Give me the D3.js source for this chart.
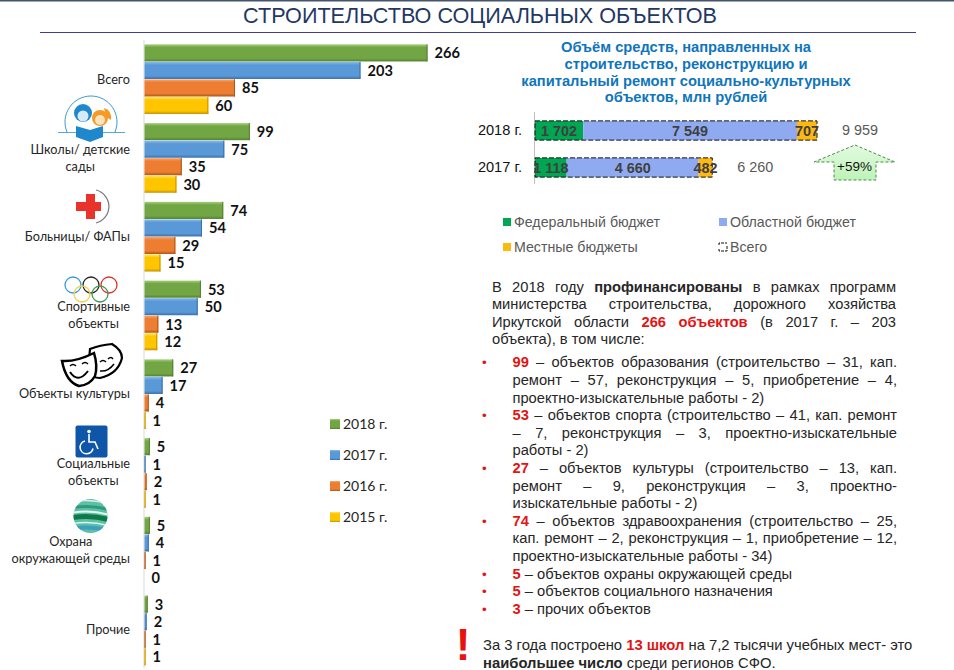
<!DOCTYPE html>
<html><head><meta charset="utf-8">
<script src="https://cdn.jsdelivr.net/npm/d3@7/dist/d3.min.js"></script>
<style>html,body{margin:0;padding:0;background:#fff;overflow:hidden}svg{display:block}</style>
</head><body><svg id="c" width="954" height="670"></svg>
<script>
const title = "СТРОИТЕЛЬСТВО СОЦИАЛЬНЫХ ОБЪЕКТОВ";
const categories = ["Всего","Школы","Больницы","Спорт","Культура","Социальные","Охрана","Прочие"];
const categoryLines = [["Всего"],["Школы/ детские","сады"],["Больницы/ ФАПы"],["Спортивные","объекты"],["Объекты культуры"],["Социальные","объекты"],["Охрана","окружающей среды"],["Прочие"]];
const years = ["2018 г.","2017 г.","2016 г.","2015 г."];
const y2018 = [266,99,74,53,27,5,5,3];
const y2017 = [203,75,54,50,17,1,4,2];
const y2016 = [85,35,29,13,4,2,1,1];
const y2015 = [60,30,15,12,1,1,0,1];
const fundYears = ["2018 г.","2017 г."];
const fundSeries = ["Федеральный бюджет","Областной бюджет","Местные бюджеты"];
const federal = [1702,1118];
const regional = [7549,4660];
const local = [707,482];
const totals = [9959,6260];
const fundTitle = ["Объём средств, направленных на","строительство, реконструкцию и","капитальный ремонт социально-культурных","объектов, млн рублей"];
const intro = [
 [[["В 2018 году ",""],["профинансированы","b"],[" в рамках программ",""]],1],
 [[["министерства строительства, дорожного хозяйства",""]],1],
 [[["Иркутской области ",""],["266 объектов","r"],[" (в 2017 г. – 203",""]],1],
 [[["объекта), в том числе:",""]],0]];
const bullets = [
 [[["99","r"],[" – объектов образования (строительство – 31, кап.",""]],1,1],
 [[["ремонт – 57, реконструкция – 5, приобретение – 4,",""]],1,0],
 [[["проектно-изыскательные работы - 2)",""]],0,0],
 [[["53","r"],[" – объектов спорта (строительство – 41, кап. ремонт",""]],1,1],
 [[["– 7, реконструкция – 3, проектно-изыскательные",""]],1,0],
 [[["работы - 2)",""]],0,0],
 [[["27","r"],[" – объектов культуры (строительство – 13, кап.",""]],1,1],
 [[["ремонт – 9, реконструкция – 3, проектно-",""]],1,0],
 [[["изыскательные работы - 2)",""]],0,0],
 [[["74","r"],[" – объектов здравоохранения (строительство – 25,",""]],1,1],
 [[["кап. ремонт – 2, реконструкция – 1, приобретение – 12,",""]],1,0],
 [[["проектно-изыскательные работы - 34)",""]],0,0],
 [[["5","r"],[" – объектов охраны окружающей среды",""]],0,1],
 [[["5","r"],[" – объектов социального назначения",""]],0,1],
 [[["3","r"],[" – прочих объектов",""]],0,1]];
const bulletY = [367,385,403,420,438,455,473,491,508,526,543,561,579,596,614];
const note = [
 [["За 3 года построено ",""],["13 школ","r"],[" на 7,2 тысячи учебных мест- это",""]],
 [["наибольшее число","b"],[" среди регионов СФО.",""]]];
const growth = "+59%";

const svg = d3.select("#c");
const defs = svg.append("defs");
const sans = "'Liberation Sans',Arial,sans-serif", cal = "Lato,'Noto Sans',sans-serif";

// bar gradients
const barCols = [["#a5d07a","#72a644","#547f30"],["#8cbdec","#5a99d8","#3a6ea8"],["#f8a873","#ed7d31","#ab5618"],["#ffe566","#ffc600","#c49200"]];
barCols.forEach((c,i)=>{const g=defs.append("linearGradient").attr("id","g"+i).attr("x1",0).attr("x2",0).attr("y1",0).attr("y2",1);
 [[0,c[0]],[.18,c[1]],[.82,c[1]],[1,c[2]]].forEach(s=>g.append("stop").attr("offset",s[0]).attr("stop-color",s[1]));});
const ag=defs.append("linearGradient").attr("id","arr").attr("x1",0).attr("x2",0).attr("y1",0).attr("y2",1);
ag.append("stop").attr("offset",0).attr("stop-color","#e4fbe0");ag.append("stop").attr("offset",1).attr("stop-color","#bdf3b8");

// header
svg.append("rect").attr("width",954).attr("height",1.5).attr("fill","#44546a");
svg.append("text").text(title).attr("x",480).attr("y",23).attr("text-anchor","middle").attr("font-family",sans).attr("font-size",21.6).attr("fill","#1f3864");
svg.append("line").attr("x1",40).attr("x2",916).attr("y1",32.5).attr("y2",32.5).attr("stroke","#3b3f98").attr("stroke-width",1.2);

// left chart
const x = d3.scaleLinear().domain([0,266]).range([144.5,427.5]);
const y0 = d3.scaleBand().domain(categories).range([40,670]).paddingInner(0.11).paddingOuter(0.055);
const y1 = d3.scaleBand().domain(years).range([0,y0.bandwidth()]);
const allSeries=[y2018,y2017,y2016,y2015];
const gL = svg.append("g");
gL.append("line").attr("x1",144).attr("x2",144).attr("y1",40).attr("y2",668).attr("stroke","#d9d9d9");
categories.forEach((cat,ci)=>{
 years.forEach((yr,si)=>{
  const v=allSeries[si][ci], yy=y0(cat)+y1(yr);
  gL.append("rect").attr("x",x(0)).attr("y",yy).attr("width",x(v)-x(0)).attr("height",y1.bandwidth()-.4).attr("fill",`url(#g${si})`);
  if(v>0)gL.append("rect").attr("x",x(v)-1).attr("y",yy).attr("width",1).attr("height",y1.bandwidth()-.4).attr("fill",barCols[si][2]);
  gL.append("text").text(v).attr("x",x(v)+7).attr("y",yy+y1.bandwidth()/2+5.3).attr("font-family",cal).attr("font-weight",700).attr("font-size",14.6).attr("fill","#111");
 });
});
const catY=[84,154,241,311,398,468,546,634];
categoryLines.forEach((lines,i)=>{
 const g=svg.append("g").attr("font-family",cal).attr("font-size",12.7).attr("fill","#262626");
 const ts=lines.map((l,k)=>g.append("text").text(l).attr("y",catY[i]+k*17));
 const w=d3.max(ts,t=>t.node().getComputedTextLength());
 ts.forEach(t=>t.attr("x",130-w/2).attr("text-anchor","middle"));
});
// legend left
years.forEach((yr,i)=>{
 const yy=424+i*31;
 svg.append("rect").attr("x",330).attr("y",yy-5).attr("width",10).attr("height",10).attr("fill",`url(#g${i})`);
 svg.append("text").text(yr).attr("x",343).attr("y",yy+5).attr("font-family",cal).attr("font-size",14).attr("fill","#262626");
});

// icons
const ic=svg.append("g");
// kids
ic.append("path").attr("d","M67 132 A26 26 0 1 1 115 132").attr("fill","none").attr("stroke","#3a9ad0").attr("stroke-width",1);
ic.append("line").attr("x1",58).attr("x2",125).attr("y1",132.5).attr("y2",132.5).attr("stroke","#5aa9d8");
ic.append("circle").attr("cx",83).attr("cy",113).attr("r",9).attr("fill","#1f88cc");
ic.append("circle").attr("cx",83).attr("cy",116).attr("r",5.5).attr("fill","#d5ebf8");
ic.append("circle").attr("cx",100).attr("cy",118).attr("r",8).attr("fill","#f59b25");
ic.append("circle").attr("cx",100).attr("cy",120).attr("r",5).attr("fill","#fde2bd");
ic.append("path").attr("d","M104 108 q8 2 7 12 l-5 -3z").attr("fill","#f59b25");
ic.append("path").attr("d","M76 126 L90 130 L103 126 L103 137 L90 142 L76 137Z").attr("fill","#1f88cc");
// cross
ic.append("path").attr("d","M96 190 A17 17 0 0 1 96 223").attr("fill","none").attr("stroke","#777").attr("stroke-width",1.2);
ic.append("path").attr("d","M86 194 h9 v8 h6 v9 h-6 v8 h-9 v-8 h-10 v-9 h10z").attr("fill","#e8322a");
// rings
[[73,285,"#3b9ad6"],[91,285,"#222"],[109,285,"#d8342c"],[82,294,"#f0cf4a"],[100,294,"#3f9a55"]].forEach(r=>
 ic.append("circle").attr("cx",r[0]).attr("cy",r[1]).attr("r",8).attr("fill","none").attr("stroke",r[2]).attr("stroke-width",1.3));
// masks
ic.append("path").attr("d","M90 349 Q100 345 112 344 Q122 350 122 358 Q118 374 100 378 Q92 378 88 372Z").attr("fill","#fff").attr("stroke","#000").attr("stroke-width",2.2);
ic.append("path").attr("d","M62 361 Q76 362 94 353 Q98 366 95 376 Q90 385 79 386 Q66 382 62 361Z").attr("fill","#fff").attr("stroke","#000").attr("stroke-width",2.5);
ic.append("path").attr("d","M70 372 Q78 384 88 371").attr("fill","none").attr("stroke","#000").attr("stroke-width",2);
ic.append("path").attr("d","M70 366 q3 -3 6 0 M82 364 q3 -3 6 0 M100 362 q3 -3 6 0 M108 359 q3 -3 5 0 M100 371 Q108 372 114 364").attr("fill","none").attr("stroke","#000").attr("stroke-width",1.5);
// wheelchair
ic.append("rect").attr("x",75.5).attr("y",425.5).attr("width",32).attr("height",32).attr("rx",2).attr("fill","#0f56a8");
ic.append("circle").attr("cx",89).attr("cy",431.5).attr("r",1.8).attr("fill","#fff");
ic.append("path").attr("d","M89 434 v8 h6 l3 7 M85 441 a6.5 6.5 0 1 0 8 7.5").attr("fill","none").attr("stroke","#fff").attr("stroke-width",1.6);
// globe
defs.append("clipPath").attr("id","gl").append("circle").attr("cx",90.5).attr("cy",516).attr("r",17);
const gl=ic.append("g").attr("clip-path","url(#gl)");
gl.append("rect").attr("x",73).attr("y",498).attr("width",36).attr("height",36).attr("fill","#5cc0a8");
[[502,"#d8f0e8",1.5],[508,"#2f9a78",3],[513,"#e6f5ef",2],[518,"#0f7a46",5],[524,"#dff2ec",1.5],[529,"#3d9fc0",4]].forEach(b=>
 gl.append("path").attr("d",`M70 ${b[0]} Q90 ${b[0]-4} 110 ${b[0]+2}`).attr("fill","none").attr("stroke",b[1]).attr("stroke-width",b[2]));

// funding title
fundTitle.forEach((t,i)=>svg.append("text").text(t).attr("x",686).attr("y",52+i*16.8).attr("text-anchor","middle")
 .attr("font-family",sans).attr("font-weight",700).attr("font-size",14.7).attr("fill","#0f75bc"));

// stacked chart
const fundX=d3.scaleLinear().domain([0,9959]).range([535,817]);
const fundY=d3.scaleBand().domain(fundYears).range([112,186]).paddingInner(0.48).paddingOuter(0.24);
const fmt=d3.formatLocale({decimal:",",thousands:" ",grouping:[3],currency:["",""]}).format(",");
const fundCols=["#00a651","#8faaf0","#fdb813"];
const fundData=[federal,regional,local];
const stack=d3.stack().keys([0,1,2]).value((d,k)=>fundData[k][d])(fundYears.map((_,i)=>i));
svg.append("line").attr("x1",534.5).attr("x2",534.5).attr("y1",112).attr("y2",184).attr("stroke","#bfbfbf");
stack.forEach((s,k)=>s.forEach((d,i)=>{
 const yy=fundY(fundYears[i]);
 svg.append("rect").attr("x",fundX(d[0])).attr("y",yy).attr("width",fundX(d[1])-fundX(d[0])).attr("height",fundY.bandwidth()).attr("fill",fundCols[k]);
}));
fundYears.forEach((yr,i)=>{
 svg.append("rect").attr("x",fundX(0)).attr("y",fundY(yr)).attr("width",fundX(totals[i])-fundX(0)).attr("height",fundY.bandwidth())
  .attr("fill","none").attr("stroke","#111").attr("stroke-width",1).attr("stroke-dasharray","5 2");
 svg.append("text").text(yr).attr("x",522).attr("y",fundY(yr)+fundY.bandwidth()/2+4.5).attr("text-anchor","end").attr("font-family",sans).attr("font-size",14.6).attr("fill","#111");
 svg.append("text").text(fmt(totals[i])).attr("x",fundX(totals[i])+43).attr("y",fundY(yr)+fundY.bandwidth()/2+4.5).attr("text-anchor","middle").attr("font-family",sans).attr("font-size",14.4).attr("fill","#595959");
});
stack.forEach((s,k)=>s.forEach((d,i)=>{
 svg.append("text").text(fmt(fundData[k][i])).attr("x",(fundX(d[0])+fundX(d[1]))/2).attr("y",fundY(fundYears[i])+fundY.bandwidth()/2+5)
  .attr("text-anchor","middle").attr("font-family",sans).attr("font-weight",700).attr("font-size",14.4).attr("fill","#404040");
}));
// growth arrow
svg.append("path").attr("d","M855 145 L895 162 L876 162 L876 180 L834 180 L834 162 L814 162Z").attr("fill","url(#arr)").attr("stroke","#4d8a4d").attr("stroke-dasharray","3 2");
svg.append("text").text(growth).attr("x",854.5).attr("y",171).attr("text-anchor","middle").attr("font-family",sans).attr("font-size",13.5).attr("fill","#111");
// fund legend
[[503,218,0],[719,218,1],[503,243,2]].forEach(p=>{
 svg.append("rect").attr("x",p[0]).attr("y",p[1]).attr("width",8).attr("height",8).attr("fill",fundCols[p[2]]);
 svg.append("text").text(fundSeries[p[2]]).attr("x",p[0]+11).attr("y",p[1]+9).attr("font-family",sans).attr("font-size",14.2).attr("fill","#595959");
});
svg.append("path").attr("d","M719 245 v-2 h8 M727 246 v5 h-8 v-3").attr("fill","none").attr("stroke","#111").attr("stroke-dasharray","3 1");
svg.append("text").text("Всего").attr("x",730).attr("y",252).attr("font-family",sans).attr("font-size",14.2).attr("fill","#595959");

// rich text with justification
function line(parts,xx,yy,w,just,fs){
 const t=svg.append("text").attr("x",xx).attr("y",yy).attr("font-family",sans).attr("font-size",fs).attr("fill","#262626").attr("xml:space","preserve").style("white-space","pre");
 parts.forEach(p=>{const s=t.append("tspan").text(p[0]);
  if(p[1]=="b")s.attr("font-weight",700);
  if(p[1]=="r")s.attr("font-weight",700).attr("fill","#e31414");});
 if(just){const len=t.node().getComputedTextLength();
  const sp=parts.map(p=>p[0]).join("").split(" ").length-1;
  t.attr("word-spacing",(w-len)/sp);}
}
const introY=[292,309,327,344];
intro.forEach((l,i)=>line(l[0],492,introY[i],404,l[1],14.7));
bullets.forEach((l,i)=>{
 line(l[0],512.5,bulletY[i],384.5,l[1],14.7);
 if(l[2])svg.append("text").text("•").attr("x",482).attr("y",bulletY[i]).attr("font-family",sans).attr("font-size",13.4).attr("fill","#e31414");
});
note.forEach((l,i)=>line(l,483,650+i*17.5,0,0,14.8));
svg.append("text").text("!").attr("x",463).attr("y",660).attr("text-anchor","middle").attr("font-family",sans).attr("font-weight",700).attr("font-size",44).attr("fill","#e8120f");
</script></body></html>
